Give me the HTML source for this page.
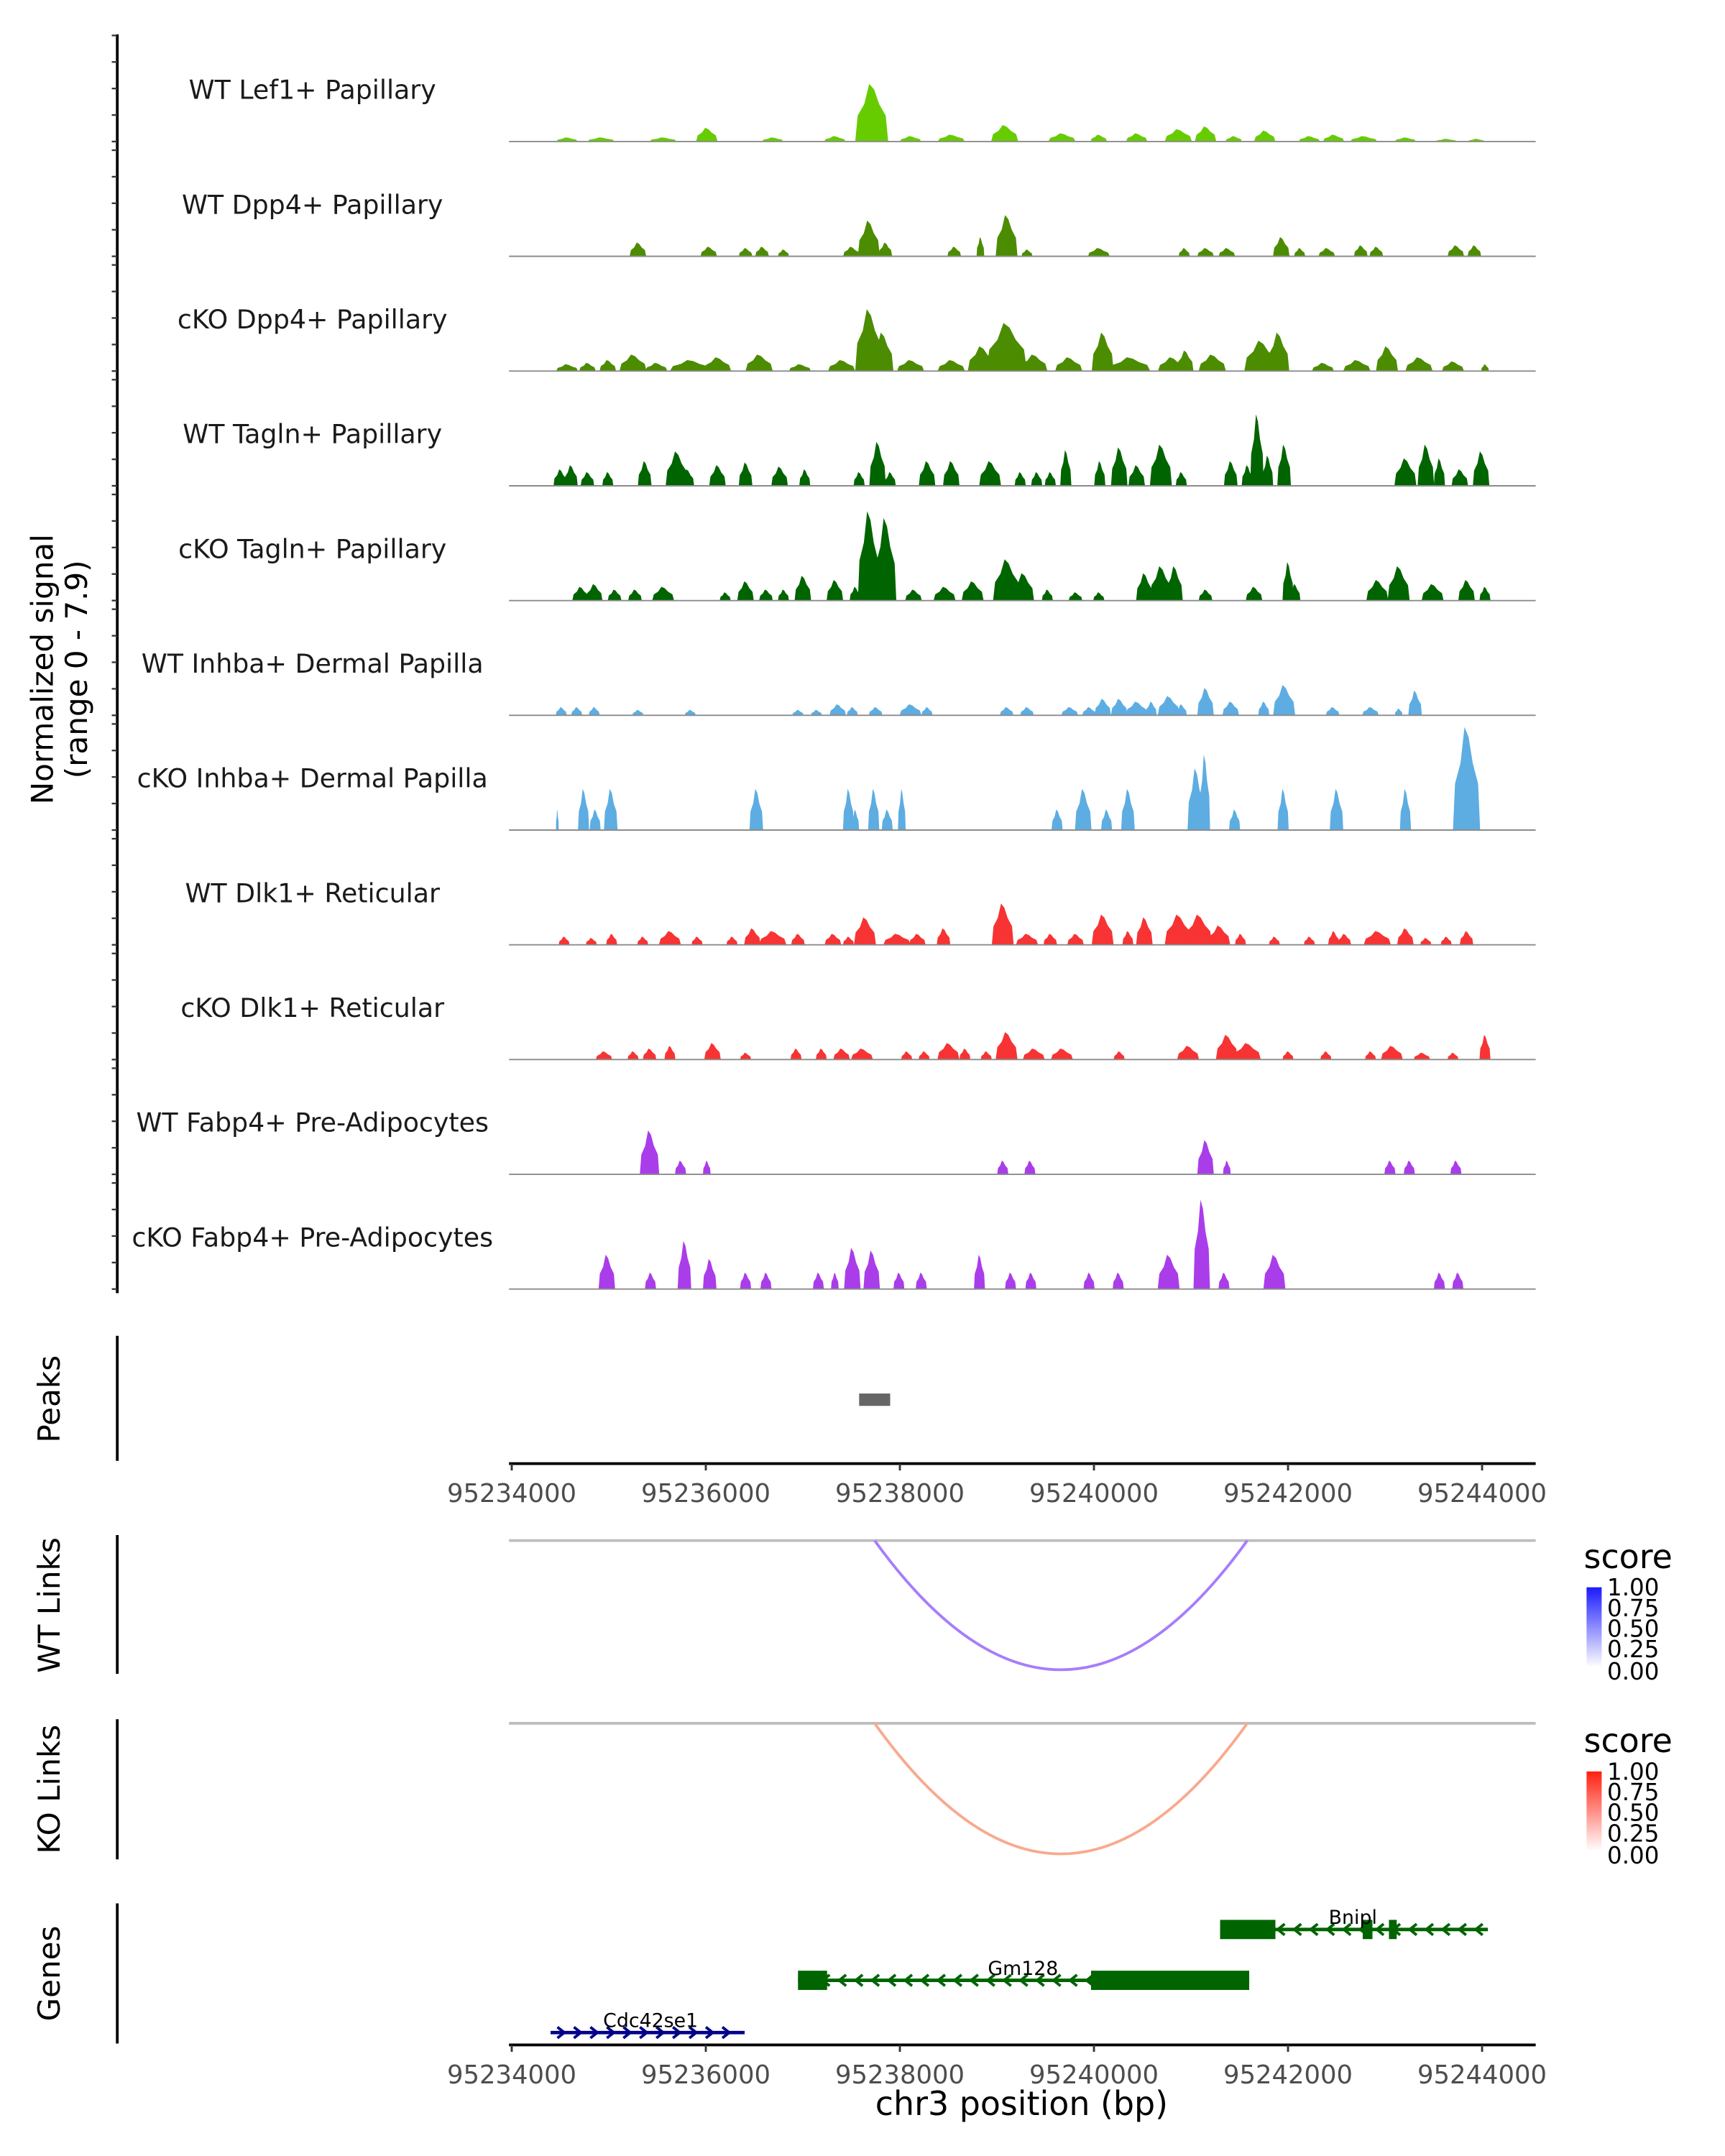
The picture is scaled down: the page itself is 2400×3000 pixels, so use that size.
<!DOCTYPE html>
<html><head><meta charset="utf-8">
<style>
html,body{margin:0;padding:0;background:#fff;}
svg{display:block;font-family:"DejaVu Sans","Liberation Sans",sans-serif;}
</style></head>
<body>
<svg width="2400" height="3000" viewBox="0 0 1240 1550" xmlns="http://www.w3.org/2000/svg">
<rect width="1240" height="1550" fill="#fff"/>
<g id="chart" transform="translate(2.3,0) scale(0.988)">
<g id="tracks"></g>
<line x1="83" y1="25" x2="83" y2="941" stroke="#000" stroke-width="2"/>
<text transform="translate(40,487) rotate(-90)" text-anchor="middle" font-size="22" fill="#000"><tspan x="0" dy="-4">Normalized signal</tspan><tspan x="0" dy="25">(range 0 - 7.9)</tspan></text>

<line x1="83" y1="972" x2="83" y2="1063" stroke="#000" stroke-width="2"/>
<text transform="translate(41,1018) rotate(-90)" text-anchor="middle" font-size="22">Peaks</text>
<g id="peaks"></g>
<g id="xaxis1"></g>

<line x1="83" y1="1117" x2="83" y2="1218" stroke="#000" stroke-width="2"/>
<text transform="translate(41,1168) rotate(-90)" text-anchor="middle" font-size="22">WT Links</text>
<line x1="368" y1="1121" x2="1115" y2="1121" stroke="#bebebe" stroke-width="2"/>
<path id="wtArc" fill="none" stroke="#a77dfa" stroke-width="2"/>

<line x1="83" y1="1251" x2="83" y2="1353" stroke="#000" stroke-width="2"/>
<text transform="translate(41,1302) rotate(-90)" text-anchor="middle" font-size="22">KO Links</text>
<line x1="368" y1="1254" x2="1115" y2="1254" stroke="#bebebe" stroke-width="2"/>
<path id="koArc" fill="none" stroke="#f9a98f" stroke-width="2"/>

<defs>
<linearGradient id="gBlue" x1="0" y1="1" x2="0" y2="0"><stop offset="0" stop-color="#fff"/><stop offset="1" stop-color="#1a1aff"/></linearGradient>
<linearGradient id="gRed" x1="0" y1="1" x2="0" y2="0"><stop offset="0" stop-color="#fff"/><stop offset="1" stop-color="#ff2010"/></linearGradient>
</defs>
<g>
<text x="1150" y="1141" font-size="24">score</text>
<rect x="1152" y="1155" width="11" height="58" fill="url(#gBlue)"/>
<g font-size="17" fill="#000"><text x="1167" y="1161">1.00</text><text x="1167" y="1176">0.75</text><text x="1167" y="1191">0.50</text><text x="1167" y="1206">0.25</text><text x="1167" y="1222">0.00</text></g>
</g>
<g>
<text x="1150" y="1275" font-size="24">score</text>
<rect x="1152" y="1289" width="11" height="58" fill="url(#gRed)"/>
<g font-size="17" fill="#000"><text x="1167" y="1295">1.00</text><text x="1167" y="1310">0.75</text><text x="1167" y="1325">0.50</text><text x="1167" y="1340">0.25</text><text x="1167" y="1356">0.00</text></g>
</g>

<line x1="83" y1="1385" x2="83" y2="1487" stroke="#000" stroke-width="2"/>
<text transform="translate(41,1436) rotate(-90)" text-anchor="middle" font-size="22">Genes</text>
<g id="genes"></g>
<g id="xaxis2"></g>
<text x="741" y="1539" text-anchor="middle" font-size="24">chr3 position (bp)</text>
</g>
</svg>
<script>
// positions in kb offset from 95234000, heights in normalized signal, widths in kb (half-width)
const trackNames = ["WT Lef1+ Papillary","WT Dpp4+ Papillary","cKO Dpp4+ Papillary","WT Tagln+ Papillary","cKO Tagln+ Papillary","WT Inhba+ Dermal Papilla","cKO Inhba+ Dermal Papilla","WT Dlk1+ Reticular","cKO Dlk1+ Reticular","WT Fabp4+ Pre-Adipocytes","cKO Fabp4+ Pre-Adipocytes"];
const trackColors = ["#66cc00","#4c8c00","#4c8c00","#006400","#006400","#5dade2","#5dade2","#f83333","#f83333","#aa3dea","#aa3dea"];

const lef1Pos=[0.57,0.92,1.56,2.01,2.69,3.33,3.71,4.11,4.53,5.08,5.67,6.05,6.44,6.87,7.15,7.44,7.76,8.22,8.47,8.78,9.21,9.63,9.94];
const lef1Ht=[0.29,0.29,0.29,0.95,0.29,0.38,4.0,0.38,0.48,1.14,0.57,0.48,0.57,0.86,1.05,0.38,0.76,0.38,0.48,0.38,0.29,0.19,0.19];
const lef1Wd=[0.11,0.14,0.14,0.11,0.11,0.11,0.17,0.11,0.14,0.14,0.14,0.085,0.11,0.14,0.11,0.085,0.11,0.11,0.11,0.14,0.11,0.11,0.085];

const wtDppPos=[1.30,2.03,2.41,2.58,2.80,3.50,3.68,3.85,4.56,4.83,5.10,5.31,6.05,6.93,7.15,7.37,7.93,8.12,8.40,8.75,8.91,9.73,9.92];
const wtDppHt=[0.95,0.67,0.57,0.67,0.48,0.67,2.48,0.95,0.67,1.33,2.86,0.48,0.57,0.57,0.57,0.57,1.33,0.57,0.57,0.76,0.67,0.76,0.76];
const wtDppWd=[0.085,0.085,0.07,0.07,0.057,0.085,0.113,0.07,0.07,0.04,0.113,0.057,0.113,0.057,0.085,0.085,0.085,0.057,0.085,0.07,0.07,0.085,0.07];

const koDppPos=[0.57,0.78,0.99,1.25,1.49,1.84,2.12,2.55,2.97,3.40,3.68,3.82,4.11,4.53,4.84,5.10,5.38,5.74,6.09,6.37,6.80,6.94,7.22,7.72,7.90,8.36,8.71,9.02,9.35,9.70,10.03];
const koDppHt=[0.48,0.57,0.76,1.14,0.57,0.76,0.95,1.14,0.48,0.76,4.29,2.67,0.76,0.76,1.71,3.33,1.14,0.95,2.67,0.95,0.95,1.43,1.14,2.10,2.67,0.57,0.76,1.71,0.95,0.67,0.48];
const koDppWd=[0.113,0.085,0.085,0.14,0.113,0.21,0.14,0.14,0.113,0.14,0.14,0.113,0.14,0.14,0.14,0.21,0.14,0.14,0.113,0.21,0.14,0.085,0.14,0.17,0.113,0.113,0.14,0.113,0.14,0.113,0.04];

const wtTagPos=[0.50,0.61,0.78,0.99,1.37,1.70,1.81,2.12,2.41,2.76,3.02,3.58,3.77,3.90,4.28,4.53,4.93,5.24,5.41,5.55,5.71,6.06,6.26,6.44,6.69,6.90,7.41,7.58,7.68,7.79,7.96,9.21,9.42,9.56,9.77,9.99];
const wtTagHt=[1.14,1.43,0.95,0.95,1.71,2.38,1.14,1.43,1.62,1.33,1.14,0.95,3.05,0.95,1.71,1.71,1.71,0.95,0.95,0.95,2.48,1.71,2.67,1.43,2.86,0.95,1.71,1.43,4.95,2.10,2.86,1.90,2.86,1.90,1.14,2.38];
const wtTagWd=[0.07,0.07,0.07,0.057,0.07,0.113,0.07,0.085,0.07,0.085,0.057,0.057,0.085,0.057,0.085,0.085,0.113,0.057,0.057,0.057,0.057,0.057,0.085,0.085,0.113,0.057,0.07,0.057,0.07,0.057,0.07,0.113,0.085,0.057,0.085,0.085];

const koTagPos=[0.71,0.85,1.06,1.27,1.56,2.20,2.41,2.62,2.80,3.00,3.33,3.54,3.68,3.85,4.14,4.46,4.75,5.10,5.27,5.52,5.81,6.05,6.52,6.69,6.83,7.15,7.65,8.00,8.07,8.92,9.14,9.49,9.84,10.03];
const koTagHt=[0.95,1.14,0.76,0.76,0.95,0.57,1.33,0.76,0.76,1.71,1.43,0.95,6.19,5.71,0.76,0.95,1.33,2.86,1.90,0.76,0.57,0.57,1.90,2.38,2.38,0.76,0.95,2.67,1.14,1.43,2.38,1.14,1.43,0.95];
const koTagWd=[0.085,0.085,0.07,0.07,0.113,0.057,0.085,0.07,0.057,0.085,0.085,0.057,0.113,0.113,0.085,0.113,0.113,0.14,0.113,0.057,0.07,0.057,0.085,0.113,0.085,0.07,0.085,0.057,0.057,0.113,0.113,0.113,0.085,0.057];

const wtInhPos=[0.51,0.67,0.85,1.30,1.84,2.95,3.14,3.36,3.51,3.75,4.11,4.28,5.10,5.31,5.75,5.95,6.09,6.26,6.44,6.59,6.77,6.90,7.15,7.41,7.75,7.96,8.46,8.85,9.14,9.31];
const wtInhHt=[0.57,0.57,0.57,0.38,0.38,0.38,0.38,0.76,0.57,0.57,0.76,0.57,0.57,0.57,0.57,0.57,1.14,1.14,0.95,0.95,1.33,0.76,1.90,0.95,0.95,2.10,0.57,0.57,0.48,1.71];
const wtInhWd=[0.057,0.057,0.057,0.057,0.057,0.057,0.057,0.085,0.057,0.07,0.113,0.057,0.07,0.07,0.085,0.07,0.085,0.085,0.113,0.057,0.113,0.057,0.085,0.085,0.057,0.113,0.07,0.085,0.04,0.07];

const koInhPos=[0.47,0.74,0.86,1.02,2.52,3.47,3.54,3.73,3.87,4.02,5.62,5.89,6.13,6.35,7.05,7.14,7.45,7.95,8.50,9.21,9.84];
const koInhHt=[1.43,2.86,1.43,2.86,2.86,2.86,1.43,2.86,1.43,2.86,1.43,2.86,1.43,2.86,4.29,5.24,1.43,2.86,2.86,2.86,7.14];
const koInhWd=[0.014,0.057,0.057,0.07,0.07,0.057,0.04,0.057,0.057,0.04,0.057,0.085,0.057,0.07,0.085,0.057,0.057,0.057,0.07,0.057,0.14];

const wtDlkPos=[0.54,0.82,1.03,1.35,1.63,1.91,2.27,2.48,2.69,2.95,3.31,3.47,3.64,3.97,4.18,4.45,5.06,5.31,5.55,5.81,6.09,6.35,6.52,6.87,7.08,7.29,7.51,7.86,8.22,8.47,8.58,8.92,9.21,9.42,9.63,9.84];
const wtDlkHt=[0.57,0.48,0.76,0.57,0.95,0.57,0.57,1.14,0.95,0.76,0.76,0.57,1.90,0.76,0.76,1.14,2.86,0.76,0.76,0.76,2.10,0.95,1.90,2.10,2.10,1.33,0.76,0.57,0.57,0.95,0.76,0.95,1.14,0.48,0.57,0.95];
const wtDlkWd=[0.057,0.057,0.057,0.057,0.113,0.057,0.057,0.085,0.14,0.07,0.085,0.057,0.113,0.14,0.085,0.07,0.113,0.113,0.07,0.085,0.113,0.057,0.085,0.14,0.14,0.113,0.057,0.057,0.057,0.057,0.07,0.14,0.085,0.057,0.057,0.07];

const koDlkPos=[0.95,1.25,1.42,1.63,2.07,2.41,2.93,3.19,3.40,3.61,4.07,4.25,4.50,4.67,4.89,5.10,5.38,5.67,6.26,6.97,7.37,7.58,8.00,8.39,8.85,9.07,9.38,9.70,10.03];
const koDlkHt=[0.57,0.57,0.76,0.95,1.14,0.48,0.76,0.76,0.76,0.76,0.57,0.57,1.14,0.76,0.57,1.90,0.76,0.76,0.57,0.95,1.71,1.14,0.57,0.57,0.57,0.95,0.48,0.48,1.71];
const koDlkWd=[0.085,0.057,0.07,0.057,0.085,0.057,0.057,0.057,0.085,0.113,0.057,0.057,0.113,0.057,0.057,0.113,0.113,0.113,0.057,0.113,0.113,0.14,0.057,0.057,0.057,0.113,0.085,0.057,0.057];

const wtFabPos=[1.42,1.74,2.01,5.06,5.34,7.15,7.37,9.05,9.25,9.73];
const wtFabHt=[3.05,0.95,0.95,0.95,0.95,2.38,0.95,0.95,0.95,0.95];
const wtFabWd=[0.1,0.057,0.04,0.057,0.057,0.085,0.04,0.057,0.057,0.057];

const koFabPos=[0.98,1.43,1.78,2.04,2.41,2.62,3.16,3.33,3.51,3.71,3.99,4.22,4.82,5.14,5.35,5.95,6.25,6.77,7.11,7.34,7.86,9.56,9.75];
const koFabHt=[2.38,1.14,3.33,2.10,1.14,1.14,1.14,1.14,2.86,2.67,1.14,1.14,2.38,1.14,1.14,1.14,1.14,2.38,6.19,1.14,2.38,1.14,1.14];
const koFabWd=[0.085,0.057,0.07,0.07,0.057,0.057,0.057,0.04,0.085,0.085,0.057,0.057,0.057,0.057,0.057,0.057,0.057,0.113,0.085,0.057,0.113,0.057,0.057];

const allPos=[lef1Pos,wtDppPos,koDppPos,wtTagPos,koTagPos,wtInhPos,koInhPos,wtDlkPos,koDlkPos,wtFabPos,koFabPos];
const allHt=[lef1Ht,wtDppHt,koDppHt,wtTagHt,koTagHt,wtInhHt,koInhHt,wtDlkHt,koDlkHt,wtFabHt,koFabHt];
const allWd=[lef1Wd,wtDppWd,koDppWd,wtTagWd,koTagWd,wtInhWd,koInhWd,wtDlkWd,koDlkWd,wtFabWd,koFabWd];

const xTicksKb=[0,2,4,6,8,10];
const xTickLabels=["95234000","95236000","95238000","95240000","95242000","95244000"];
const peakStartKb=[3.58];
const peakEndKb=[3.90];
const wtLinkStartKb=[3.74];
const wtLinkEndKb=[7.58];
const koLinkStartKb=[3.74];
const koLinkEndKb=[7.58];
const geneNames=["Bnipl","Gm128","Cdc42se1"];
const geneStartKb=[7.3,2.95,0.4];
const geneEndKb=[10.06,7.6,2.4];
const geneStrand=[-1,-1,1];
const geneExonStartKb=[[7.3,8.77,9.04],[2.95,5.97],[]];
const geneExonEndKb=[[7.87,8.87,9.12],[3.25,7.6],[]];

const NS="http://www.w3.org/2000/svg";
const X0=370, PXKB=70.6, YPX=10.5, TRACK_SP=83.5, FIRST_BASE=103;
function xs(kb){return X0+kb*PXKB;}
function mk(tag,attrs,parent){const e=document.createElementNS(NS,tag);for(const k in attrs)e.setAttribute(k,attrs[k]);parent.appendChild(e);return e;}

const tracksG=document.getElementById('tracks');
const root=document.getElementById('chart');
for(let t=0;t<trackNames.length;t++){
  const base=FIRST_BASE+t*TRACK_SP;
  const ys=v=>base-v*YPX;
  const g=mk('g',{},tracksG);
  
  
  for(let k=0;k<5;k++){
    const tk=mk('line',{x1:79,x2:83,y1:base-k*19.3,y2:base-k*19.3,stroke:'#333','stroke-width':1.2},root);
    
    
  }
  const lbl=mk('text',{x:225,y:base-31,'text-anchor':'middle','font-size':19,fill:'#1a1a1a'},g);
  lbl.textContent=trackNames[t];
  
  
  const pos=allPos[t],ht=allHt[t],wd=allWd[t];
  for(let i=0;i<pos.length;i++){
    const c=pos[i],h=ht[i],w=wd[i];
    const pts=[[c-w,0],[c-w*0.85,h*0.45],[c-w*0.45,h*0.65],[c-w*0.15,h],[c+w*0.15,h*0.9],[c+w*0.45,h*0.65],[c+w*0.85,h*0.45],[c+w,0]];
    const p=mk('polygon',{points:pts.map(q=>xs(q[0]).toFixed(1)+','+ys(q[1]).toFixed(1)).join(' '),fill:trackColors[t]},g);
    
    
  }
  const bl=mk('line',{x1:368,x2:1115,y1:base,y2:base,stroke:'#8c8c8c','stroke-width':1},g);
  
  
}

const peaksG=document.getElementById('peaks');
for(let i=0;i<peakStartKb.length;i++){
  const r=mk('rect',{x:xs(peakStartKb[i]),y:1014,width:xs(peakEndKb[i])-xs(peakStartKb[i]),height:9,fill:'#666'},peaksG);
  
  
}

function drawAxis(gid,y){
  const g=document.getElementById(gid);
  mk('line',{x1:368,x2:1115,y1:y,y2:y,stroke:'#000','stroke-width':2},g);
  for(let i=0;i<xTicksKb.length;i++){
    const x=xs(xTicksKb[i]);
    mk('line',{x1:x,x2:x,y1:y,y2:y+5,stroke:'#333','stroke-width':1.5},g);
    const t=mk('text',{x:x,y:y+28,'text-anchor':'middle','font-size':18.5,fill:'#4d4d4d'},g);
    t.textContent=xTickLabels[i];
    
    
  }
}
drawAxis('xaxis1',1065);
drawAxis('xaxis2',1488);

function arc(id,s,e,top,bottom){
  const x1=xs(s),x2=xs(e);
  const cx=(x1+x2)/2;
  const cy=2*bottom-top;
  document.getElementById(id).setAttribute('d',`M${x1},${top} Q${cx},${cy} ${x2},${top}`);
}
arc('wtArc',wtLinkStartKb[0],wtLinkEndKb[0],1121,1215);
arc('koArc',koLinkStartKb[0],koLinkEndKb[0],1254,1349);

const genesG=document.getElementById('genes');
const geneY=[1404,1441,1479];
const geneColors=["#006400","#006400","#00008b"];
for(let i=0;i<geneNames.length;i++){
  const y=geneY[i],col=geneColors[i];
  const g=mk('g',{},genesG);
  
  
  const x1=xs(geneStartKb[i]),x2=xs(geneEndKb[i]);
  mk('line',{x1:x1,x2:x2,y1:y,y2:y,stroke:col,'stroke-width':2.5},g);
  for(let x=x1+8;x<x2-4;x+=12){
    const d=geneStrand[i]>0?`M${x-3},${y-4} L${x+2},${y} L${x-3},${y+4}`:`M${x+3},${y-4} L${x-2},${y} L${x+3},${y+4}`;
    mk('path',{d:d,fill:'none',stroke:col,'stroke-width':2},g);
  }
  for(let j=0;j<geneExonStartKb[i].length;j++){
    const a=xs(geneExonStartKb[i][j]),b=xs(geneExonEndKb[i][j]);
    const ex=mk('rect',{x:a,y:y-7,width:b-a,height:14,fill:col},g);
    
    
  }
  const t=mk('text',{x:(geneNames[i]==="Bnipl"?982:geneNames[i]==="Gm128"?742:471),y:y-4,'text-anchor':'middle','font-size':14,fill:'#000'},g);
  t.textContent=geneNames[i];
  
  
}
</script>
</body></html>
